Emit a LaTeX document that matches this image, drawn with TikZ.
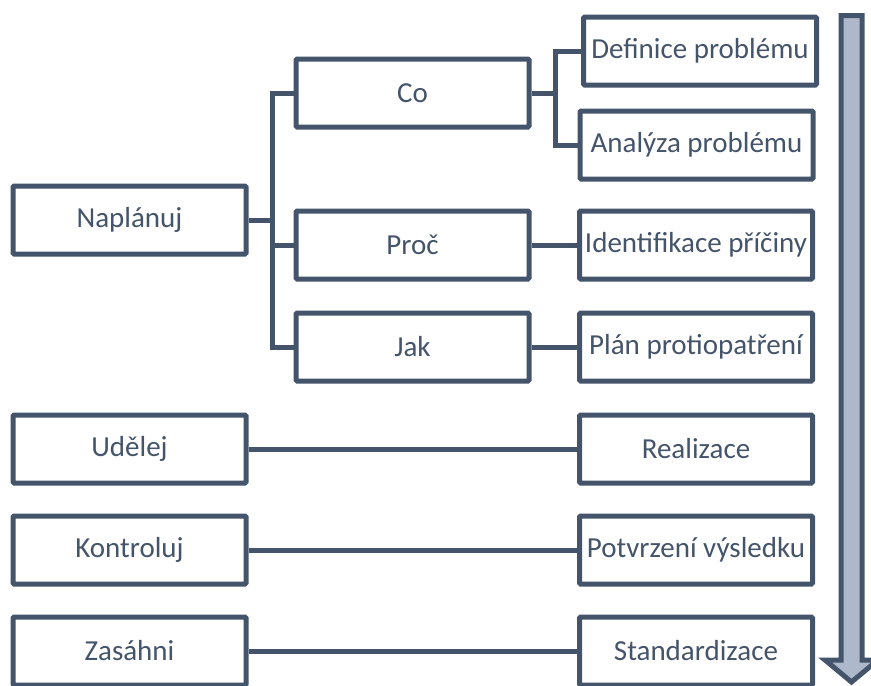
\documentclass[tikz,border=0pt]{standalone}
\usepackage{fontspec}
\setmainfont{Carlito}
\definecolor{slate}{HTML}{44546A}
\definecolor{slatelight}{HTML}{ADB9CA}
\begin{document}
\begin{tikzpicture}[x=1pt,y=-1pt,
  stepbox/.style={draw=slate,line width=5pt,fill=white,rounded corners=1.2pt,
    minimum width=233pt,minimum height=68pt,inner sep=0pt,text=slate,
    font=\fontsize{29}{34}\selectfont},
  conn/.style={draw=slate,line width=5pt,line join=miter}]
\useasboundingbox (0,0) rectangle (871,686);

% phase boxes on the left
\node[stepbox] (nap)  at (129.5,220) {Naplánuj};
\node[stepbox] (udel) at (129.5,449) {Udělej};
\node[stepbox] (kon)  at (129.5,550) {Kontroluj};
\node[stepbox] (zas)  at (129.5,651) {Zasáhni};

% questions of the planning phase
\node[stepbox] (co)   at (412.5,93)  {Co};
\node[stepbox] (proc) at (412.5,245) {Proč};
\node[stepbox] (jak)  at (412.5,347) {Jak};

% activities on the right
\node[stepbox] (def)  at (700,51)  {Definice problému};
\node[stepbox] (ana)  at (696.5,145) {Analýza problému};
\node[stepbox] (ide)  at (696,245) {Identifikace příčiny};
\node[stepbox] (plan) at (696,347) {Plán protiopatření};
\node[stepbox] (real) at (696,449) {Realizace};
\node[stepbox] (pot)  at (696,550) {Potvrzení výsledku};
\node[stepbox] (std)  at (696,651) {Standardizace};

% bracket lines
\coordinate (tr) at (272,0);
\coordinate (cr) at (555,0);
\draw[conn] (nap.east) -- (nap.east -| tr);
\draw[conn] (co.west) -- (co.west -| tr) -- (jak.west -| tr) -- (jak.west);
\draw[conn] (proc.west) -- (proc.west -| tr);
\draw[conn] (co.east) -- (co.east -| cr);
\draw[conn] (def.west) -- (def.west -| cr) -- (ana.west -| cr) -- (ana.west);

% straight links
\draw[conn] (proc.east) -- (ide.west);
\draw[conn] (jak.east) -- (plan.west);
\draw[conn] (udel.east) -- (real.west);
\draw[conn] (kon.east) -- (pot.west);
\draw[conn] (zas.east) -- (std.west);

% downward sequence arrow
\draw[draw=slate,fill=slatelight,line width=5pt,line join=miter]
  (841,15.5) -- (862,15.5) -- (862,660) -- (878,660) -- (851.5,682)
  -- (825,660) -- (841,660) -- cycle;
\end{tikzpicture}
\end{document}
